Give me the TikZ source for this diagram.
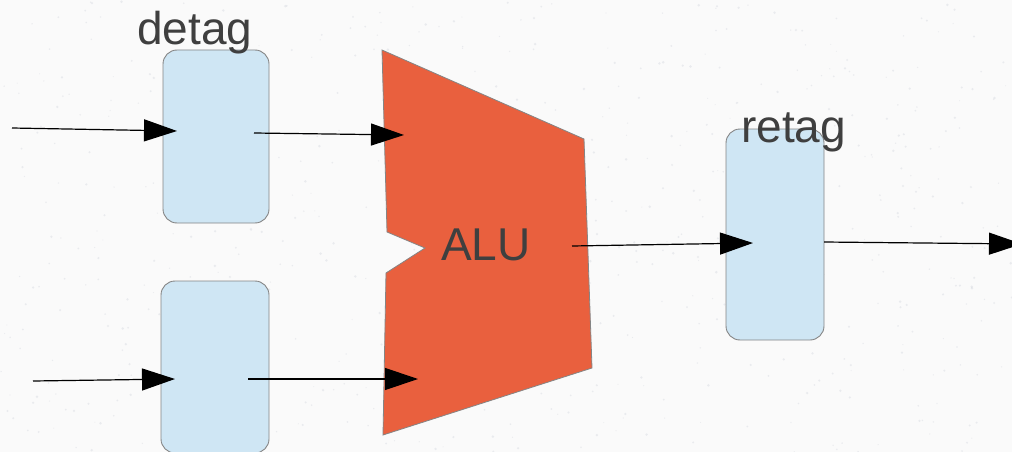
\documentclass[tikz,border=0pt]{standalone}
\usepackage{fontspec}
\setmainfont{Liberation Sans}
\usetikzlibrary{arrows.meta}
\definecolor{paper}{HTML}{FAFAFA}
\definecolor{speck}{HTML}{C4C9D3}
\definecolor{boxfill}{HTML}{CFE6F4}
\definecolor{boxline}{HTML}{858585}
\definecolor{alufill}{HTML}{E9603E}
\definecolor{labeltext}{HTML}{3F3F3F}
\tikzset{
  stage/.style={draw=boxline, line width=0.9pt, fill=boxfill, rounded corners=14pt,
    inner sep=0pt},
  title/.style={text=labeltext, font=\fontsize{46}{46}\selectfont, inner sep=0pt},
  wire/.style={line width=1.2pt, -{Triangle[length=33pt,width=22pt]}},
}
\begin{document}
\begin{tikzpicture}[x=1pt,y=-1pt]
  \useasboundingbox (0,0) rectangle (1012,452);
  \clip (0,0) rectangle (1012,452);
  % paper background with faint speckles
  \fill[paper] (0,0) rectangle (1012,452);
  \pgfmathsetseed{7}
  \foreach \i in {1,...,700}{
    \fill[speck, opacity=0.3] (rnd*1012, rnd*452) circle (0.5+rnd*0.9);
  }
  % register stages
  \node[stage, minimum width=106pt, minimum height=173pt] (detagA) at (216,136.5) {};
  \node[stage, minimum width=108pt, minimum height=172pt] (detagB) at (215,367) {};
  \node[stage, minimum width=98pt, minimum height=211pt] (retag) at (775,234.5) {};
  % ALU body with input notch
  \fill[alufill, draw=boxline, line width=0.8pt]
    (382,50) -- (584,139) -- (592,368) -- (383,435) -- (386,273)
    -- (425,248) -- (387,232) -- cycle;
  \node[title, anchor=base] (alu) at (486,260) {ALU};
  % labels
  \node[title, anchor=base west] (detaglbl) at (137,45) {detag};
  \node[title, anchor=base west] (retaglbl) at (741,142) {retag};
  % wire end points
  \coordinate (inA) at (12,128);
  \coordinate (inAend) at (177,131);
  \coordinate (outA) at (254,133);
  \coordinate (aluA) at (404,135);
  \coordinate (inB) at (33,381);
  \coordinate (inBend) at (175,379);
  \coordinate (outB) at (248,379);
  \coordinate (aluB) at (418,379);
  \coordinate (aluout) at (572,246);
  \coordinate (retagin) at (753,243);
  \coordinate (retagout) at (824,242);
  \coordinate (result) at (1022,244);
  % wires
  \draw[wire] (inA) -- (inAend);
  \draw[wire] (outA) -- (aluA);
  \draw[wire] (inB) -- (inBend);
  \draw[wire] (outB) -- (aluB);
  \draw[wire] (aluout) -- (retagin);
  \draw[wire] (retagout) -- (result);
\end{tikzpicture}
\end{document}
